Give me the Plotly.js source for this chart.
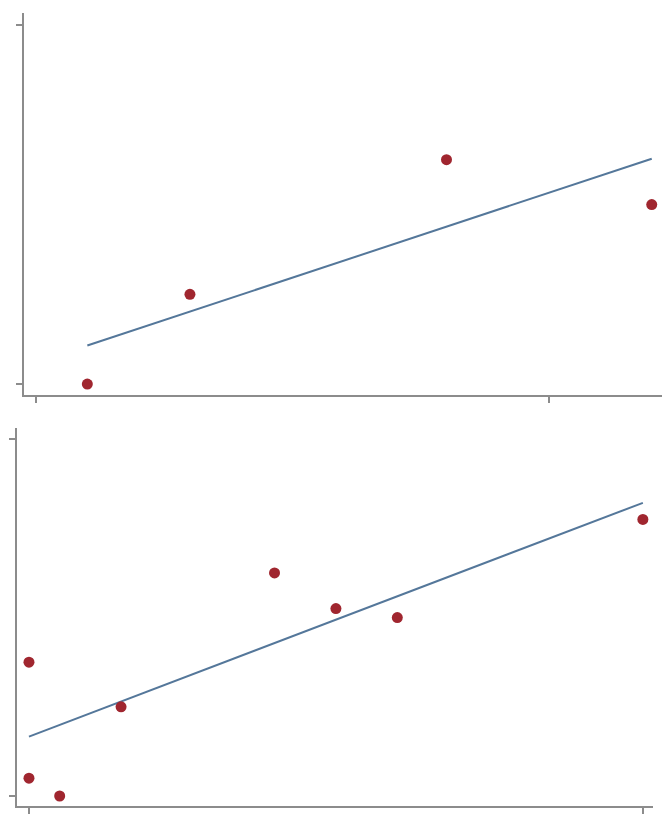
<!DOCTYPE html>
<html>
<head>
<meta charset="utf-8">
<script src="https://cdn.plot.ly/plotly-3.0.1.min.js"></script>
<style>html,body{margin:0;padding:0;background:#fff;}#chart{width:668px;height:821px;}</style>
</head>
<body>
<div id="chart"></div>
<script>
// Top panel data
const topX = [1, 3, 8, 12];
const topY = [0, 5, 12.5, 10];
const topXTicks = [0, 10];
const topYTicks = [0, 20];

// Bottom panel data
const botX = [0, 1, 0, 3, 8, 10, 12, 20];
const botY = [1, 0, 7.5, 5, 12.5, 10.5, 10, 15.5];
const botXTicks = [0, 20];
const botYTicks = [0, 20];

function fit(xs, ys) {
  const n = xs.length;
  const mx = xs.reduce((a, b) => a + b, 0) / n;
  const my = ys.reduce((a, b) => a + b, 0) / n;
  let sxy = 0, sxx = 0;
  for (let i = 0; i < n; i++) { sxy += (xs[i] - mx) * (ys[i] - my); sxx += (xs[i] - mx) ** 2; }
  const b = sxy / sxx, a = my - b * mx;
  const x0 = Math.min(...xs), x1 = Math.max(...xs);
  return { x: [x0, x1], y: [a + b * x0, a + b * x1] };
}

const ptColor = '#a0262f';
const lnColor = '#54779a';
const axColor = '#8c8c8c';

const tf = fit(topX, topY);
const bf = fit(botX, botY);

const traces = [
  { x: tf.x, y: tf.y, mode: 'lines', line: { color: lnColor, width: 2 }, xaxis: 'x', yaxis: 'y', hoverinfo: 'skip' },
  { x: topX, y: topY, mode: 'markers', marker: { color: ptColor, size: 11 }, xaxis: 'x', yaxis: 'y' },
  { x: bf.x, y: bf.y, mode: 'lines', line: { color: lnColor, width: 2 }, xaxis: 'x2', yaxis: 'y2', hoverinfo: 'skip' },
  { x: botX, y: botY, mode: 'markers', marker: { color: ptColor, size: 11 }, xaxis: 'x2', yaxis: 'y2' }
];

function ax(extra) {
  return Object.assign({
    showline: true, linecolor: axColor, linewidth: 2,
    ticks: 'outside', ticklen: 6, tickwidth: 2, tickcolor: axColor,
    showticklabels: false, showgrid: false, zeroline: false,
    tickmode: 'array', fixedrange: true
  }, extra);
}

const layout = {
  width: 668, height: 821,
  margin: { l: 0, r: 0, t: 0, b: 0 },
  paper_bgcolor: '#fff', plot_bgcolor: '#fff',
  showlegend: false,
  xaxis: ax({ domain: [24 / 668, 662 / 668], range: [-0.234, 12.2], tickvals: topXTicks, anchor: 'y' }),
  yaxis: ax({ domain: [1 - 395 / 821, 1 - 13 / 821], range: [-0.61, 20.67], tickvals: topYTicks, anchor: 'x' }),
  xaxis2: ax({ domain: [17 / 668, 653 / 668], range: [-0.39, 20.33], tickvals: botXTicks, anchor: 'y2' }),
  yaxis2: ax({ domain: [1 - 806 / 821, 1 - 428 / 821], range: [-0.56, 20.62], tickvals: botYTicks, anchor: 'x2' })
};

Plotly.newPlot('chart', traces, layout, { displayModeBar: false, staticPlot: true });
</script>
</body>
</html>
